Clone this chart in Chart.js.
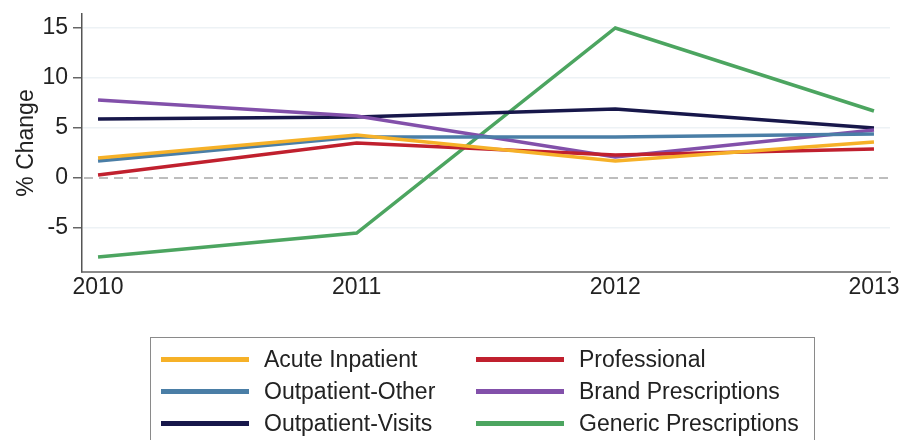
<!DOCTYPE html>
<html>
<head>
<meta charset="utf-8">
<script src="https://cdn.jsdelivr.net/npm/chart.js@4"></script>
<style>
  body { margin: 0; background: #fff; }
  #wrap { position: relative; width: 903px; height: 440px; overflow: hidden; }
  #legend {
    position: absolute; left: 150px; top: 337px; width: 665px; height: 120px;
    border: 1px solid #8a8a8a; box-sizing: border-box;
    font-family: "Liberation Sans", Arial, sans-serif; font-size: 23px; color: #222;
  }
  .item { position: absolute; height: 24px; line-height: 24px; white-space: nowrap; }
  .swatch { position: absolute; left: 0; top: 10px; width: 88px; height: 5px; }
  .label { position: absolute; left: 103px; top: 0; }
</style>
</head>
<body>
<div id="wrap">
  <canvas id="myChart" width="903" height="440"></canvas>
  <div id="legend"></div>
</div>
<script>
// anos
const anos = [2010, 2011, 2012, 2013];

// séries (% de variação)
const acuteInpatient = [2.0, 4.3, 1.7, 3.6];
const professional = [0.3, 3.5, 2.3, 2.9];
const outpatientOther = [1.7, 4.1, 4.1, 4.4];
const brandPrescriptions = [7.8, 6.2, 2.1, 4.8];
const outpatientVisits = [5.9, 6.1, 6.9, 5.0];
const genericPrescriptions = [-7.9, -5.5, 15.0, 6.7];

const yTicks = [-5, 0, 5, 10, 15];

const series = [
  { nome: "Acute Inpatient", dados: acuteInpatient, cor: "#f6b128" },
  { nome: "Professional", dados: professional, cor: "#c0202e" },
  { nome: "Outpatient-Other", dados: outpatientOther, cor: "#4a7ea6" },
  { nome: "Brand Prescriptions", dados: brandPrescriptions, cor: "#8250aa" },
  { nome: "Outpatient-Visits", dados: outpatientVisits, cor: "#17174a" },
  { nome: "Generic Prescriptions", dados: genericPrescriptions, cor: "#4ca560" }
];

// linha tracejada no zero
const zeroLine = {
  id: "zeroLine",
  beforeDatasetsDraw(chart) {
    const { ctx, chartArea } = chart;
    const y = chart.scales.y.getPixelForValue(0);
    ctx.save();
    ctx.strokeStyle = "#a8a8a8";
    ctx.lineWidth = 1.5;
    ctx.setLineDash([9, 6]);
    ctx.beginPath();
    ctx.moveTo(chartArea.left + 2, y);
    ctx.lineTo(chartArea.right, y);
    ctx.stroke();
    ctx.restore();
  }
};

const fonte = { family: "'Liberation Sans', Arial, sans-serif", size: 23 };

new Chart(document.getElementById("myChart"), {
  type: "line",
  data: {
    datasets: series.map(s => ({
      label: s.nome,
      data: anos.map((a, i) => ({ x: a, y: s.dados[i] })),
      borderColor: s.cor,
      backgroundColor: s.cor,
      borderWidth: 3.5,
      pointRadius: 0,
      tension: 0
    }))
  },
  plugins: [zeroLine],
  options: {
    responsive: false,
    animation: false,
    layout: { padding: { top: 14, right: 13 } },
    plugins: { legend: { display: false }, tooltip: { enabled: false } },
    scales: {
      x: {
        type: "linear",
        min: 2009.938,
        max: 2013.062,
        afterBuildTicks: scale => { scale.ticks = anos.map(v => ({ value: v })); },
        afterFit: scale => { scale.height = 168; },
        grid: { display: false, drawTicks: false },
        border: { color: "#8a8a8a", width: 2 },
        ticks: { color: "#222", font: fonte, padding: 2, maxRotation: 0, callback: v => String(v) }
      },
      y: {
        min: -9.4,
        max: 16.4,
        afterBuildTicks: scale => { scale.ticks = yTicks.map(v => ({ value: v })); },
        afterFit: scale => { scale.width = 82; scale.paddingTop = 0; scale.paddingBottom = 0; },
        grid: {
          color: ctx => (ctx.tick && ctx.tick.value === 0) ? "rgba(0,0,0,0)" : "#edf2f5",
          lineWidth: 1.5,
          tickColor: "#666",
          tickLength: 9
        },
        border: { color: "#555", width: 1.5 },
        ticks: { color: "#222", font: { ...fonte, lineHeight: 1 }, padding: 5 },
        title: { display: true, text: "% Change", color: "#222", font: fonte, padding: { top: 13, bottom: 0 } }
      }
    }
  }
});

// legenda em duas colunas
const legend = document.getElementById("legend");
series.forEach((s, i) => {
  const col = i % 2, row = Math.floor(i / 2);
  const item = document.createElement("div");
  item.className = "item";
  item.style.left = (col === 0 ? 10 : 325) + "px";
  item.style.top = (9 + row * 32) + "px";
  item.innerHTML = '<span class="swatch" style="background:' + s.cor + '"></span><span class="label"></span>';
  item.querySelector(".label").textContent = s.nome;
  legend.appendChild(item);
});
</script>
</body>
</html>
